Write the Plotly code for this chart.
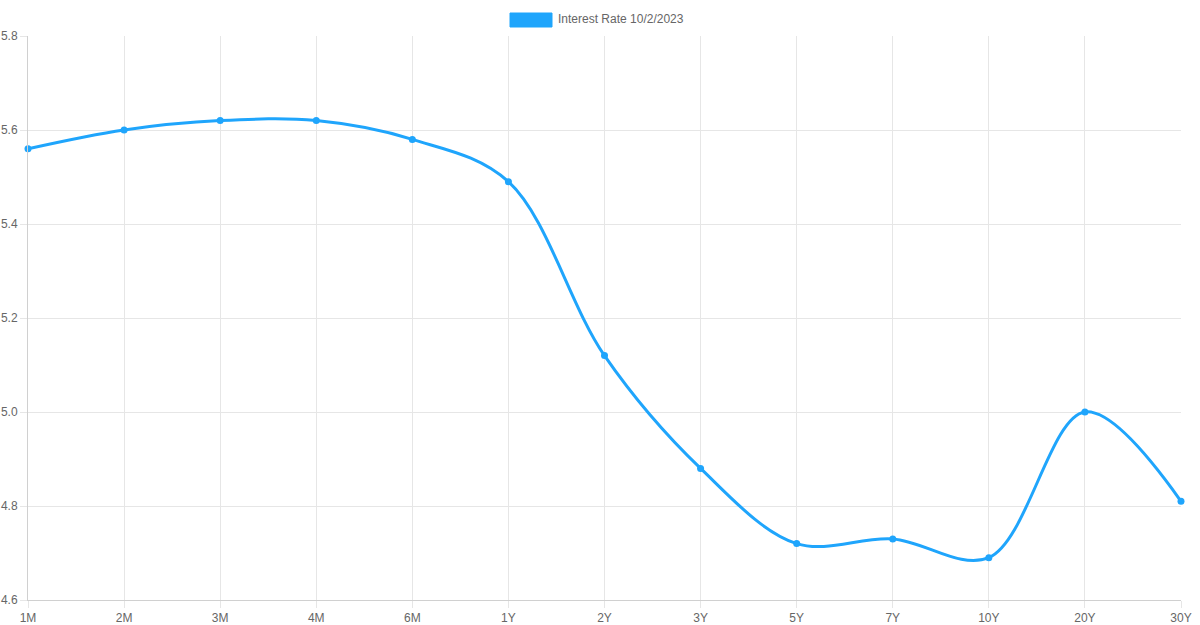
import plotly.graph_objects as go

# Treasury yield curve, 10/2/2023
maturities = ["1M", "2M", "3M", "4M", "6M", "1Y", "2Y", "3Y", "5Y", "7Y", "10Y", "20Y", "30Y"]
rates = [5.56, 5.60, 5.62, 5.62, 5.58, 5.49, 5.12, 4.88, 4.72, 4.73, 4.69, 5.00, 4.81]
series_name = "Interest Rate 10/2/2023"

blue = "#1fa5fc"
grid = "#e6e6e6"
text_col = "#666666"

# plot area in pixels (page coords)
L, R, T, B = 28, 1181, 36, 600
W, H = 1200, 625
pw, ph = R - L, B - T

fig = go.Figure()
fig.add_trace(go.Scatter(
    x=maturities, y=rates,
    mode="lines+markers",
    line=dict(color=blue, width=3, shape="spline", smoothing=1.0),
    marker=dict(color=blue, size=7),
    name=series_name,
    showlegend=False,
    cliponaxis=False,
    hoverinfo="x+y",
))

# legend drawn by hand (Chart.js style box)
fig.add_shape(type="rect", xref="paper", yref="paper",
              x0=(510 - L) / pw, x1=(552 - L) / pw,
              y0=1 + (T - 27) / ph, y1=1 + (T - 13) / ph,
              fillcolor=blue, line=dict(color=blue, width=1))
fig.add_annotation(xref="paper", yref="paper",
                   x=(556 - L) / pw, y=1 + (T - 19) / ph,
                   xanchor="left", yanchor="middle", showarrow=False,
                   text=series_name, font=dict(size=12, color=text_col))

axis_style = dict(
    showgrid=True, gridcolor=grid, gridwidth=1,
    ticks="outside", ticklen=7, tickcolor=grid,
    showline=True, linecolor="#d0d0d0", linewidth=1,
    zeroline=False, automargin=False,
    tickfont=dict(size=12, color=text_col),
)

fig.update_layout(
    width=W, height=H,
    margin=dict(l=L, r=W - R, t=T, b=H - B),
    plot_bgcolor="white", paper_bgcolor="white",
    font=dict(family="Liberation Sans, Arial, sans-serif", size=12, color=text_col),
    showlegend=False,
    xaxis=dict(type="category", range=[0, 12], **axis_style),
    yaxis=dict(range=[4.6, 5.8], dtick=0.2, tickformat=".1f", **axis_style),
)

fig.write_html("out.html", config={"displayModeBar": False},
               post_script="document.body.style.margin='0';")
